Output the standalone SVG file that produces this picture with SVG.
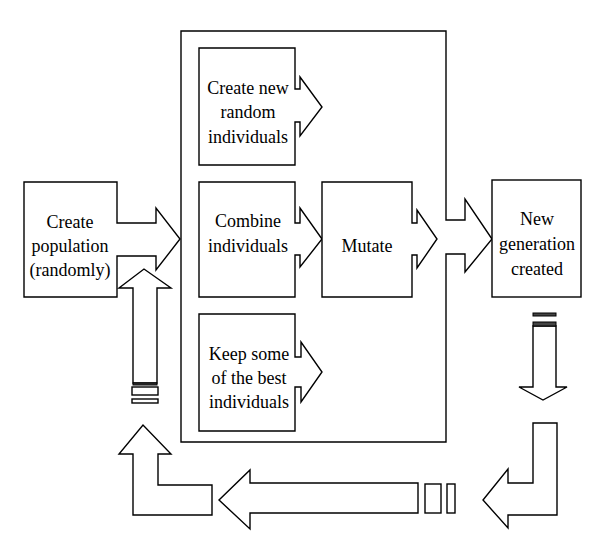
<svg xmlns="http://www.w3.org/2000/svg" width="610" height="538" viewBox="0 0 610 538">
<style>
.s{fill:#fff;stroke:#000;stroke-width:1.4;stroke-linejoin:miter}
.b{fill:#444;stroke:#000;stroke-width:1}
text{font-family:"Liberation Serif","Times New Roman",serif;font-size:18px;fill:#000;text-anchor:middle}
</style>
<rect width="610" height="538" fill="#fff"/>
<g id="main-box">
<path class="s" d="M446,220 H465 V199 L492,239 L465,272 V254 H446 V442 H181 V31 H446 Z"/>
</g>
<g id="create-population">
<path class="s" d="M24,182 H117 V223 H156 V208 L180,239 L156,270 V256 H117 V297 H24 Z"/>
<text x="70" y="228">Create</text>
<text x="70" y="252">population</text>
<text x="70" y="276">(randomly)</text>
</g>
<g id="create-new">
<path class="s" d="M199,48 H295 V89 H300 V77 L322,107 L300,136 V122 H295 V165 H199 Z"/>
<text x="248" y="94">Create new</text>
<text x="248" y="118">random</text>
<text x="248" y="143">individuals</text>
</g>
<g id="combine">
<path class="s" d="M199,182 H295 V223 H300 V208 L322,239 L300,267 V255 H295 V297 H199 Z"/>
<text x="248" y="227">Combine</text>
<text x="248" y="252">individuals</text>
</g>
<g id="mutate">
<path class="s" d="M322,182 H412 V223 H417 V210 L437,239 L417,268 V255 H412 V297 H322 Z"/>
<text x="367" y="252">Mutate</text>
</g>
<g id="keep-best">
<path class="s" d="M199,314 H295 V357 H301 V342 L322,372 L301,402 V387 H295 V431 H199 Z"/>
<text x="249" y="360">Keep some</text>
<text x="249" y="384">of the best</text>
<text x="249" y="408">individuals</text>
</g>
<g id="new-generation">
<rect class="s" x="492" y="180" width="89" height="117"/>
<text x="537" y="225">New</text>
<text x="537" y="250">generation</text>
<text x="537" y="275">created</text>
</g>
<g id="connectors">
<path class="s" d="M533,326 V387 H519 L543,400 L567,387 H556 V326 Z"/>
<rect class="b" x="533" y="313" width="23" height="3"/>
<rect class="b" x="533" y="322" width="23" height="4"/>
<path class="s" d="M533,423 H557 V515 H508 V528 L483,500 L508,469 V483 H533 Z"/>
<rect class="s" x="447" y="484" width="8" height="29"/>
<rect class="s" x="425" y="484" width="16" height="29"/>
<path class="s" d="M418,483 H250 V470 L219,500 L250,529 V513 H418 Z"/>
<path class="s" d="M133,515 V454 H119 L143,425 L171,454 H158 V485 H212 V515 Z"/>
<rect class="s" x="132" y="399" width="26" height="4"/>
<rect class="s" x="132" y="387" width="26" height="8"/>
<path class="s" d="M133,383 V288 H119 L144,269 L171,288 H157 V383 Z"/>
<rect class="b" x="133" y="383" width="24" height="2" fill="#888"/>
</g>
</svg>
